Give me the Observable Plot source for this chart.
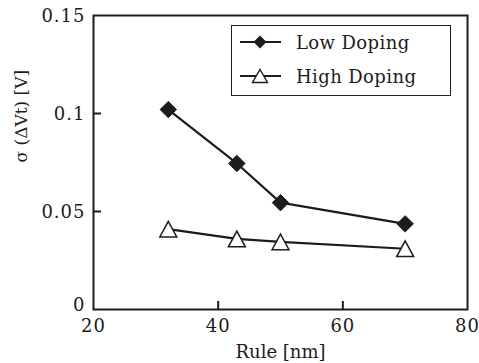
<!DOCTYPE html>
<html>
<head>
<meta charset="utf-8">
<script src="https://cdn.jsdelivr.net/npm/d3@7"></script>
<script src="https://cdn.jsdelivr.net/npm/@observablehq/plot@0.6"></script>
<style>
  html, body { margin: 0; padding: 0; background: #fff; }
  #chart { position: relative; width: 479px; height: 363px; font-family: "DejaVu Serif", serif; color: #1c1c1c; }
  #chart svg text { font-family: "DejaVu Serif", serif; }
  #chart svg g[aria-label="x-axis tick label"] text,
  #chart svg g[aria-label="y-axis tick label"] text { letter-spacing: 1px; }
  .legend { position: absolute; left: 231px; top: 25px; width: 218px; height: 69px;
            border: 1.6px solid #222; background: #fff; }
  .legend .row { position: absolute; left: 0; height: 30px; display: flex; align-items: center; }
  .legend svg { display: block; }
  .legend span { font-family: "DejaVu Serif", serif; font-size: 18px; letter-spacing: 0.4px; margin-left: 14px; white-space: nowrap; }
</style>
</head>
<body>
<div id="chart"></div>
<script>
// Process rule (nm)
const rules = [32, 43, 50, 70];
// Threshold-voltage variation sigma(ΔVt) in volts
const lowDoping = [0.102, 0.0745, 0.0545, 0.0437];
const highDoping = [0.041, 0.036, 0.0345, 0.031];
const seriesNames = ["Low Doping", "High Doping"];
const xTickValues = [20, 40, 60, 80];
const yTickValues = [0.05, 0.1, 0.15];
const yZeroTick = [0];
const xInnerTicks = [40, 60];
const yInnerTicks = [0.05, 0.1];

const ink = "#1c1c1c";

const low = rules.map((r, i) => ({rule: r, sigma: lowDoping[i]}));
const high = rules.map((r, i) => ({rule: r, sigma: highDoping[i]}));

// Square rotated 45°, half-diagonal = r
const diamondSymbol = {
  draw(ctx, size) {
    const r = Math.sqrt(size / Math.PI);
    ctx.moveTo(0, -r); ctx.lineTo(r, 0); ctx.lineTo(0, r); ctx.lineTo(-r, 0); ctx.closePath();
  }
};
// Upward triangle centred on its bounding box
const triangleSymbol = {
  draw(ctx, size) {
    const r = Math.sqrt(size / Math.PI);
    const w = r * 1.06, h = r * 0.98;
    ctx.moveTo(0, -h); ctx.lineTo(w, h); ctx.lineTo(-w, h); ctx.closePath();
  }
};
const blank = () => "";

const chart = Plot.plot({
  width: 479,
  height: 363,
  marginLeft: 93,
  marginRight: 12,
  marginTop: 15,
  marginBottom: 54,
  style: {fontFamily: "DejaVu Serif, serif", fontSize: "18px", color: ink, background: "#fff"},
  x: {domain: [20, 80]},
  y: {domain: [0, 0.15]},
  marks: [
    // tick labels
    Plot.axisX({ticks: xTickValues, tickSize: 0, tickPadding: 10, label: null, tickFormat: d => String(d)}),
    Plot.axisY({ticks: yTickValues, tickSize: 0, tickPadding: 8, label: null, tickFormat: d => String(d), dy: 1}),
    Plot.axisY({ticks: yZeroTick, tickSize: 0, tickPadding: 8, label: null, tickFormat: d => String(d), dy: -4}),
    // inward tick strokes
    Plot.axisX({ticks: xInnerTicks, tickSize: -8, tickFormat: blank, label: null, stroke: ink, strokeWidth: 2}),
    Plot.axisY({ticks: yInnerTicks, tickSize: -8, tickFormat: blank, label: null, stroke: ink, strokeWidth: 2}),
    Plot.frame({stroke: ink, strokeWidth: 2}),
    Plot.line(low, {x: "rule", y: "sigma", stroke: ink, strokeWidth: 2.2}),
    Plot.line(high, {x: "rule", y: "sigma", stroke: ink, strokeWidth: 2.2}),
    Plot.dot(low, {x: "rule", y: "sigma", symbol: diamondSymbol, r: 8.2, fill: ink, stroke: ink, strokeWidth: 1}),
    Plot.dot(high, {x: "rule", y: "sigma", symbol: triangleSymbol, r: 8, fill: "#fff", stroke: ink, strokeWidth: 1.5}),
    Plot.text(["Rule [nm]"], {frameAnchor: "bottom", dy: 48, lineAnchor: "bottom", fill: ink, fontSize: 18, style: "letter-spacing:0.5px"}),
    Plot.text(["σ (ΔVt) [V]"], {frameAnchor: "left", dx: -72, rotate: -90, lineAnchor: "middle", fill: ink, fontSize: 17})
  ]
});

const root = document.getElementById("chart");
root.appendChild(chart);

// Legend box drawn over the upper-right of the plot
const legend = document.createElement("div");
legend.className = "legend";
const legendSymbols = [
  `<path d="M20,-6.5 L26.5,0 L20,6.5 L13.5,0 Z" fill="${ink}"/>`,
  `<path d="M20,-6.5 L27.5,6.5 L12.5,6.5 Z" fill="#fff" stroke="${ink}" stroke-width="1.4"/>`
];
seriesNames.forEach((name, i) => {
  const row = document.createElement("div");
  row.className = "row";
  row.style.top = (i === 0 ? 1 : 35) + "px";
  row.style.left = "8px";
  row.innerHTML = `<svg width="42" height="30" viewBox="0 -15 42 30">
      <line x1="0" x2="41" y1="0" y2="0" stroke="${ink}" stroke-width="2.2"/>${legendSymbols[i]}</svg>
      <span>${name}</span>`;
  legend.appendChild(row);
});
root.appendChild(legend);
</script>
</body>
</html>
